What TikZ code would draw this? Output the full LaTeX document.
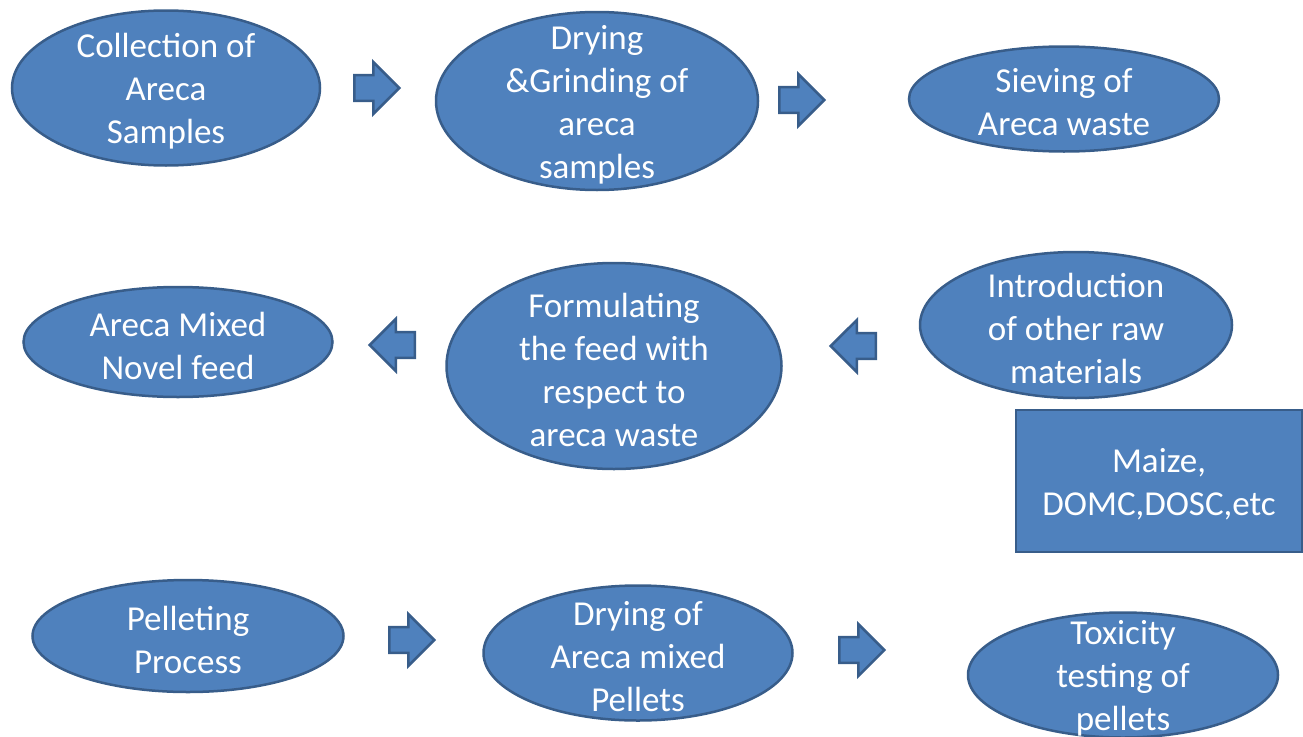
\documentclass[tikz,border=0pt]{standalone}
\usepackage{fontspec}
\setmainfont{Carlito}
\usetikzlibrary{shapes.geometric,shapes.arrows}
\definecolor{stagefill}{HTML}{4F81BD}
\definecolor{stageline}{HTML}{385D8A}
\newcommand{\stagefont}{\fontsize{35}{43}\selectfont}

\begin{document}
\begin{tikzpicture}[x=1pt,y=-1pt,
  stage/.style={ellipse, fill=stagefill, draw=stageline, line width=2.5pt, inner sep=0pt},
  stagetext/.style={text=white, font=\stagefont, align=center, inner sep=0pt, yshift=-3.5pt},
  flow/.style={single arrow, fill=stagefill, draw=stageline, line width=2.5pt, anchor=tail,
    minimum width=52pt, minimum height=45pt, inner sep=10.5pt, single arrow head extend=12pt},
  backflow/.style={flow, shape border rotate=180}]
\useasboundingbox (0,0) rectangle (1303,736);
% first row
\node[stage, minimum width=308pt, minimum height=155pt,
  label={[stagetext]center:{Collection of\\Areca\\Samples}}] (collect) at (166,88) {};
\node[stage, minimum width=322pt, minimum height=178pt,
  label={[stagetext]center:{Drying\\\&Grinding of\\areca\\samples}}] (grind) at (597,101) {};
\node[stage, minimum width=310pt, minimum height=105pt,
  label={[stagetext]center:{Sieving of\\Areca waste}}] (sieve) at (1064,99) {};
\node[flow] (flowA) at (353,88) {};
\node[flow] (flowB) at (778,100) {};
% second row
\node[stage, minimum width=309pt, minimum height=110pt,
  label={[stagetext]center:{Areca Mixed\\Novel feed}}] (novel) at (178,342) {};
\node[stage, minimum width=335pt, minimum height=206pt,
  label={[stagetext]center:{Formulating\\the feed with\\respect to\\areca waste}}] (formulate) at (614,366) {};
\node[stage, minimum width=312pt, minimum height=146pt,
  label={[stagetext]center:{Introduction\\of other raw\\materials}}] (introduce) at (1076,325) {};
\node[rectangle, fill=stagefill, draw=stageline, line width=2.5pt, minimum width=286pt,
  minimum height=142pt, inner sep=0pt,
  label={[stagetext]center:{Maize,\\DOMC,DOSC,etc}}] (rawmix) at (1159,481) {};
\node[backflow] (flowC) at (416,345) {};
\node[backflow] (flowD) at (877,346) {};
% third row
\node[stage, minimum width=311pt, minimum height=112pt,
  label={[stagetext]center:{Pelleting\\Process}}] (pellet) at (188,636) {};
\node[stage, minimum width=309pt, minimum height=135pt,
  label={[stagetext]center:{Drying of\\Areca mixed\\Pellets}}] (drypellet) at (638,653) {};
\node[stage, minimum width=310pt, minimum height=125pt,
  label={[stagetext]center:{Toxicity\\testing of\\pellets}}] (toxic) at (1123,675) {};
\node[flow] (flowE) at (388,640) {};
\node[flow] (flowF) at (838,650) {};
\end{tikzpicture}
\end{document}
